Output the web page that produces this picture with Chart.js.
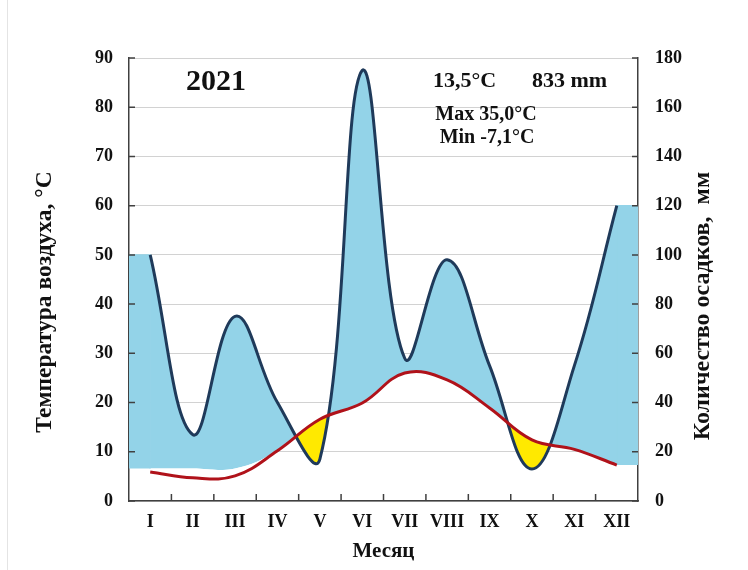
<!DOCTYPE html>
<html>
<head>
  <meta charset="utf-8">
  <title>Климатограмма 2021</title>
  <script src="https://cdn.jsdelivr.net/npm/chart.js@4.4.1/dist/chart.umd.min.js"></script>
  <style>
    body { margin: 0; background: #fff; }
    #wrap { position: relative; width: 748px; height: 570px; }
    #frame { position: absolute; left: 7px; top: 0; width: 0; height: 570px; border-left: 1px solid #e4e4e4; }
  </style>
</head>
<body>
  <div id="wrap">
    <div id="frame"></div>
    <canvas id="chart" width="748" height="570"></canvas>
  </div>

  <script>
    // данные
    const months = ['I', 'II', 'III', 'IV', 'V', 'VI', 'VII', 'VIII', 'IX', 'X', 'XI', 'XII'];
    const temperature = [5.9, 4.7, 5.1, 10.2, 16.6, 19.9, 26.0, 24.6, 18.9, 12.4, 10.5, 7.3];   // °C
    const precipitation = [100, 27, 75, 40, 17, 175, 58, 98, 55, 13, 55, 120];                 // мм
    const tempTicks = [0, 10, 20, 30, 40, 50, 60, 70, 80, 90];
    const precTicks = [0, 20, 40, 60, 80, 100, 120, 140, 160, 180];
    const blueFloor = 6.6; // нижний край голубой заливки, °C

    const serif = '"Liberation Serif", "Times New Roman", serif';
    const blue = '#93d3e8';
    const yellow = '#ffe900';
    const none = 'rgba(0,0,0,0)';

    const pts = arr => arr.map((v, i) => ({ x: i + 1, y: v }));
    const floorLine = temperature.map(t => Math.max(t, blueFloor));
    const last = months.length - 1;

    // подписи и мелкие засечки
    const extras = {
      id: 'extras',
      afterDraw(chart) {
        const ctx = chart.ctx;
        const a = chart.chartArea;
        const xs = chart.scales.x, ys = chart.scales.y, ys1 = chart.scales.y1;
        ctx.save();
        ctx.strokeStyle = '#404040';
        ctx.lineWidth = 1.5;
        ctx.beginPath();
        for (let k = 1; k < months.length; k++) {
          const px = xs.getPixelForValue(k + 0.5);
          ctx.moveTo(px, a.bottom);
          ctx.lineTo(px, a.bottom - 7);
        }
        tempTicks.forEach(v => {
          const py = ys.getPixelForValue(v);
          ctx.moveTo(a.left, py);
          ctx.lineTo(a.left + 6, py);
        });
        precTicks.forEach(v => {
          const py = ys1.getPixelForValue(v);
          ctx.moveTo(a.right, py);
          ctx.lineTo(a.right - 6, py);
        });
        ctx.stroke();

        ctx.fillStyle = '#111';
        ctx.textBaseline = 'middle';
        ctx.textAlign = 'center';
        ctx.font = 'bold 30px ' + serif;
        ctx.fillText('2021', 216, 82);
        ctx.font = 'bold 22px ' + serif;
        ctx.textAlign = 'left';
        ctx.fillText('13,5°C', 433, 81);
        ctx.fillText('833 mm', 532, 81);
        ctx.font = 'bold 20px ' + serif;
        ctx.textAlign = 'center';
        ctx.fillText('Max 35,0°C', 486, 115);
        ctx.fillText('Min -7,1°C', 487, 138);

        // заголовки вертикальных осей
        ctx.save();
        ctx.font = 'bold 23.5px ' + serif;
        ctx.translate(45, 302);
        ctx.rotate(-Math.PI / 2);
        ctx.fillText('Температура воздуха, °C', 0, 0);
        ctx.restore();
        ctx.save();
        ctx.font = 'bold 24px ' + serif;
        ctx.translate(703, 306);
        ctx.rotate(-Math.PI / 2);
        ctx.fillText('Количество осадков,  мм', 0, 0);
        ctx.restore();
        ctx.restore();
      }
    };

    new Chart(document.getElementById('chart'), {
      type: 'line',
      data: {
        datasets: [
          {
            label: 'Температура',
            data: pts(temperature),
            yAxisID: 'y',
            borderColor: '#b0121a',
            borderWidth: 3,
            pointRadius: 0,
            tension: 0.4,
            fill: { target: 1, above: yellow, below: none }
          },
          {
            label: 'Осадки',
            data: pts(precipitation),
            yAxisID: 'y1',
            borderColor: '#1f3a5a',
            borderWidth: 3,
            pointRadius: 0,
            tension: 0.4,
            fill: { target: 2, above: blue, below: none }
          },
          {
            label: 'floor',
            data: pts(floorLine),
            yAxisID: 'y',
            borderWidth: 0,
            borderColor: none,
            pointRadius: 0,
            tension: 0.4,
            fill: false
          },
          {
            label: 'left',
            data: [
              { x: 0.5, y: precipitation[0] },
              { x: 1, y: precipitation[0] },
              { x: 1, y: floorLine[0] * 2 }
            ],
            yAxisID: 'y1',
            borderWidth: 1.5,
            borderColor: blue,
            backgroundColor: blue,
            pointRadius: 0,
            fill: { value: blueFloor * 2 }
          },
          {
            label: 'right',
            data: [
              { x: 12, y: floorLine[last] * 2 },
              { x: 12, y: precipitation[last] },
              { x: 12.5, y: precipitation[last] }
            ],
            yAxisID: 'y1',
            borderWidth: 1.5,
            borderColor: blue,
            backgroundColor: blue,
            pointRadius: 0,
            fill: { value: floorLine[last] * 2 }
          }
        ]
      },
      options: {
        responsive: false,
        animation: false,
        layout: { padding: { top: 58, left: 0, right: 0, bottom: 0 } },
        plugins: {
          legend: { display: false },
          tooltip: { enabled: false },
          filler: { drawTime: 'beforeDatasetsDraw' }
        },
        scales: {
          x: {
            type: 'linear',
            min: 0.5,
            max: 12.5,
            afterBuildTicks: s => { s.ticks = months.map((m, i) => ({ value: i + 1 })); },
            afterFit: s => { s.height = 69; },
            grid: { display: false },
            border: { color: '#404040', width: 1.5 },
            ticks: {
              autoSkip: false,
              maxRotation: 0,
              padding: 3,
              color: '#111',
              font: { family: serif, size: 18, weight: 'bold' },
              callback: v => months[v - 1]
            },
            title: {
              display: true,
              text: 'Месяц',
              color: '#111',
              padding: { top: 0, bottom: 6 },
              font: { family: serif, size: 21, weight: 'bold' }
            }
          },
          y: {
            position: 'left',
            min: 0,
            max: 90,
            afterFit: s => { s.width = 129; },
            afterBuildTicks: s => { s.ticks = tempTicks.map(v => ({ value: v })); },
            grid: { color: '#d2d2d2', lineWidth: 1, drawTicks: false },
            border: { color: '#404040', width: 1.5 },
            ticks: {
              padding: 16,
              color: '#111',
              font: { family: serif, size: 18, weight: 'bold' }
            }
          },
          y1: {
            position: 'right',
            min: 0,
            max: 180,
            afterFit: s => { s.width = 110; },
            afterBuildTicks: s => { s.ticks = precTicks.map(v => ({ value: v })); },
            grid: { display: false, drawTicks: false },
            border: { color: '#404040', width: 1.5 },
            ticks: {
              padding: 17,
              color: '#111',
              font: { family: serif, size: 18, weight: 'bold' }
            }
          }
        }
      },
      plugins: [extras]
    });
  </script>
</body>
</html>
